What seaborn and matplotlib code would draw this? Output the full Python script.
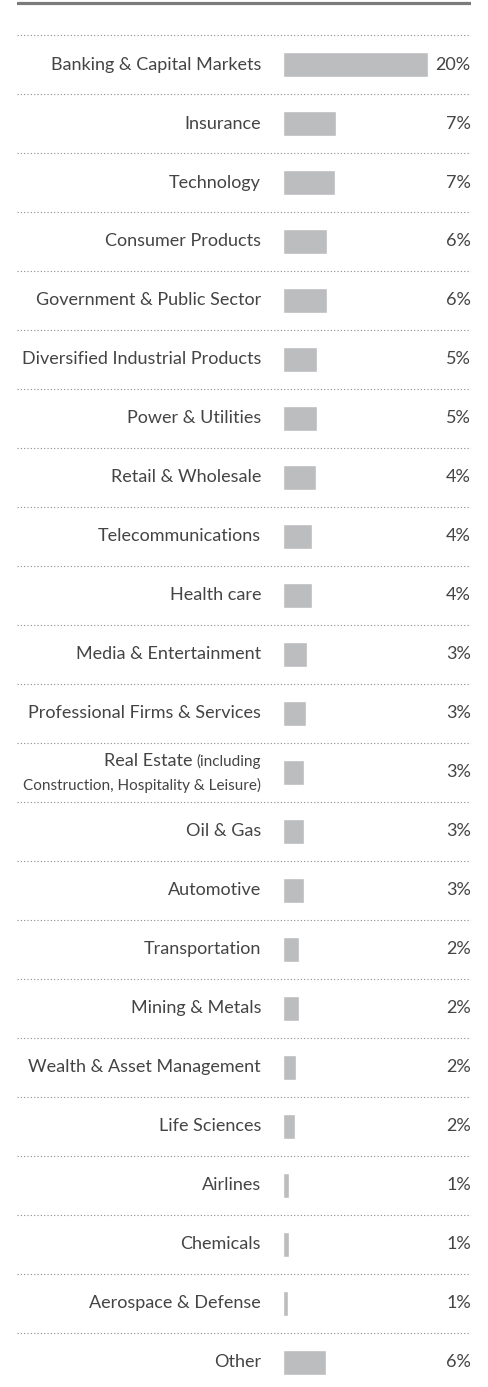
import matplotlib
matplotlib.use("Agg")
import matplotlib.pyplot as plt
import seaborn as sns
import pandas as pd

# sectors, top to bottom
categories = [
    "Banking & Capital Markets", "Insurance", "Technology", "Consumer Products",
    "Government & Public Sector", "Diversified Industrial Products",
    "Power & Utilities", "Retail & Wholesale", "Telecommunications",
    "Health care", "Media & Entertainment", "Professional Firms & Services",
    "Real Estate", "Oil & Gas", "Automotive", "Transportation",
    "Mining & Metals", "Wealth & Asset Management", "Life Sciences",
    "Airlines", "Chemicals", "Aerospace & Defense", "Other",
]
# bar lengths (%)
shares = [20.0, 7.3, 7.2, 6.1, 6.1, 4.7, 4.7, 4.5, 4.0, 4.0, 3.3, 3.2,
          2.9, 2.9, 2.9, 2.2, 2.2, 1.8, 1.7, 0.8, 0.8, 0.7, 5.9]
# printed labels
pct_labels = [20, 7, 7, 6, 6, 5, 5, 4, 4, 4, 3, 3, 3, 3, 3, 2, 2, 2, 2, 1, 1, 1, 6]

df = pd.DataFrame({"sector": categories, "share": shares})

sns.set_style("white")
plt.rcParams["font.family"] = ["Lato", "DejaVu Sans"]

TXT = "#444444"
fig = plt.figure(figsize=(4.88, 13.87), dpi=100)
ax = fig.add_axes([17 / 488, 0, 454 / 488, 1])

sns.barplot(data=df, x="share", y="sector", orient="h", color="#bcbdbf",
            width=0.424, saturation=1, ax=ax)

ax.set_xlim(-36.69, 25.93)
ax.set_ylim(22.42, -1.094)
ax.axis("off")

# top rule and dotted separators
ax.axhline(-1.04, color="#7b7b7b", lw=2.3)
for i in range(len(categories)):
    ax.axhline(i - 0.5, color="#8a8a8a", lw=0.8, ls=(0, (1, 2)))

lab_x = -3.03
fs = 13
for i, (name, p) in enumerate(zip(categories, pct_labels)):
    ax.text(25.9, i, f"{p}%", ha="right", va="center", fontsize=fs, color=TXT)
    if name == "Real Estate":
        continue
    ax.text(lab_x, i, name, ha="right", va="center", fontsize=fs, color=TXT)

# two-line label for Real Estate
ri = categories.index("Real Estate")
small = 11
t1 = ax.text(lab_x, ri - 0.1, "(including", ha="right", va="baseline",
             fontsize=small, color=TXT)
fig.canvas.draw()
w = t1.get_window_extent().width
inv = ax.transData.inverted()
x0 = ax.transData.transform((lab_x, 0))[0]
x_re = inv.transform((x0 - w - 4, 0))[0]
ax.text(x_re, ri - 0.1, "Real Estate", ha="right", va="baseline",
        fontsize=fs, color=TXT)
ax.text(lab_x, ri + 0.22, "Construction, Hospitality & Leisure)", ha="right",
        va="center", fontsize=small, color=TXT)

fig.savefig("out.png", dpi=100)
